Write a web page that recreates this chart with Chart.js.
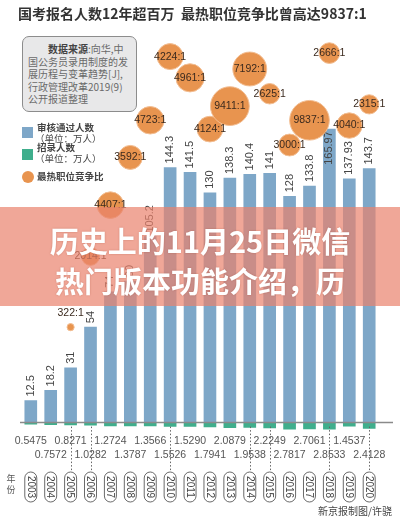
<!DOCTYPE html>
<html>
<head>
<meta charset="utf-8">
<script src="https://cdn.jsdelivr.net/npm/chart.js@4.4.1/dist/chart.umd.min.js"></script>
<style>
  html, body { margin: 0; padding: 0; background: #fff; }
  #wrap { position: relative; width: 400px; height: 519px; overflow: hidden; font-family: "Noto Sans CJK SC", sans-serif; }
  #chart { position: absolute; left: 0; top: 0; }
  #title { position: absolute; left: 18px; top: 3px; font-size: 14px; font-weight: bold; color: #333; white-space: nowrap; }
  #source { position: absolute; left: 22px; top: 36px; width: 115px; height: 76px; box-sizing: border-box;
    border: 1px solid #8c8c8c; border-radius: 7px; background: #e8e8e9; padding: 6px 0 0 5px;
    font-size: 10px; line-height: 12.6px; color: #6a6a6a; white-space: nowrap; overflow: hidden; }
  #source b { color: #444; }
  .lg { position: absolute; font-size: 9.5px; color: #444; white-space: nowrap; line-height: 11px; }
  .sw { position: absolute; width: 11px; height: 11px; }
  #banner { position: absolute; left: 0; top: 207px; width: 400px; height: 99px; background: rgba(234,130,108,0.7);
    color: #fff; font-weight: bold; font-size: 29px; line-height: 40px; text-align: center; box-sizing: border-box;
    padding-top: 13px; text-shadow: 0 0 2px rgba(150,60,40,0.4); }
  #credit { position: absolute; right: 8px; top: 503px; font-size: 10px; color: #444; }
</style>
</head>
<body>
<div id="wrap">
  <canvas id="chart" width="400" height="519"></canvas>
  <div id="title">国考报名人数12年超百万&nbsp;&nbsp;最热职位竞争比曾高达9837:1</div>
  <div id="source">&emsp;&emsp;<b>数据来源</b>:向华,中<br>国公务员录用制度的发<br>展历程与变革趋势[J],<br>行政管理改革2019(9)<br>公开报道整理</div>
  <div class="sw" style="left:22px;top:127px;background:#7ea7c8"></div>
  <div class="lg" style="left:37px;top:122px;font-weight:bold">审核通过人数</div>
  <div class="lg" style="left:35px;top:133px">（单位：万人）</div>
  <div class="sw" style="left:22px;top:149px;background:#3fae8c"></div>
  <div class="lg" style="left:37px;top:142px;font-weight:bold">招录人数</div>
  <div class="lg" style="left:35px;top:153px">（单位：万人）</div>
  <div class="sw" style="left:22px;top:171px;width:12px;height:12px;border-radius:50%;background:#e8944f"></div>
  <div class="lg" style="left:37px;top:171px;font-weight:bold">最热职位竞争比</div>
  <div id="banner">历史上的11月25日微信<br>热门版本功能介绍，历</div>
  <div id="credit">新京报制图/许骁</div>
</div>
<script>
const years = ["2003", "2004", "2005", "2006", "2007", "2008", "2009", "2010", "2011",
  "2012", "2013", "2014", "2015", "2016", "2017", "2018", "2019", "2020"];
// 审核通过人数 (万人)
const passed = [12.5, 18.2, 31, 54, 74, 80, 105.2, 144.3, 141.5, 130, 138.3, 140.4, 141, 128, 133.8, 165.97, 137.93, 143.7];
// 招录人数 (万人)
const hired = [0.5475, 0.7572, 0.8271, 1.0282, 1.2724, 1.3787, 1.3566, 1.5526, 1.5290,
  1.7941, 2.0879, 1.9538, 2.2249, 2.7817, 2.7061, 2.8533, 1.4537, 2.4128];
// 最热职位竞争比
const ratioYears = ["2005", "2006", "2007", "2008", "2009", "2010", "2011", "2012",
  "2013", "2014", "2015", "2016", "2017", "2018", "2019", "2020"];
const ratios = [322, 2014, 4407, 3592, 4723, 4224, 4961, 4124, 9411, 7192, 2625, 3000, 9837, 2666, 4040, 2315];
// vertical level of each bubble, in the same units as the bar axis
const ratioLevel = [54, 94, 123, 150, 171, 207, 195, 166, 179, 200, 186, 157, 171, 209, 168, 180];
const dottedYears = ["2005", "2006", "2010", "2014", "2015", "2018", "2020"];

const BLUE = "#7ea7c8";
const GREEN = "#3fae8c";
const ORANGE = "#e8944f";
const NUM_FONT = "'Liberation Sans', Arial, sans-serif";

const maxIdx = passed.indexOf(Math.max(...passed));

const labelsPlugin = {
  id: "labels",
  afterDatasetDraw(chart, args) {
    if (args.index !== 0) return;
    const ctx = chart.ctx;
    const meta = chart.getDatasetMeta(0);
    ctx.save();
    ctx.font = `11px ${NUM_FONT}`;
    ctx.fillStyle = "#444";
    ctx.textBaseline = "middle";
    meta.data.forEach((bar, i) => {
      ctx.save();
      ctx.translate(bar.x, bar.y);
      ctx.rotate(-Math.PI / 2);
      if (i === maxIdx) {
        ctx.textAlign = "right";
        ctx.fillText(String(passed[i]), -2, 0);
      } else {
        ctx.textAlign = "left";
        ctx.fillText(String(passed[i]), 4, 0);
      }
      ctx.restore();
    });
    ctx.restore();
  },
  afterDatasetsDraw(chart) {
    const ctx = chart.ctx;
    const x = chart.scales.x;
    const y0 = chart.scales.y.getPixelForValue(0);
    ctx.save();

    // baseline
    ctx.strokeStyle = "#8a8a8a";
    ctx.lineWidth = 1.5;
    ctx.beginPath();
    ctx.moveTo(20, y0);
    ctx.lineTo(393, y0);
    ctx.stroke();

    // dotted guides
    ctx.strokeStyle = "#666";
    ctx.lineWidth = 1;
    ctx.setLineDash([1.5, 2]);
    dottedYears.forEach((yr) => {
      const px = Math.round(x.getPixelForValue(years.indexOf(yr))) + 0.5;
      ctx.beginPath();
      ctx.moveTo(px, y0 + 4);
      ctx.lineTo(px, 472);
      ctx.stroke();
    });
    ctx.setLineDash([]);

    // recruitment numbers, alternating rows
    ctx.font = `10.5px ${NUM_FONT}`;
    ctx.fillStyle = "#555";
    ctx.textAlign = "center";
    ctx.textBaseline = "middle";
    hired.forEach((v, i) => {
      ctx.fillText(v.toFixed(4), x.getPixelForValue(i), i % 2 ? 455 : 441);
    });

    // year pills
    ctx.font = `10px ${NUM_FONT}`;
    years.forEach((yr, i) => {
      const px = x.getPixelForValue(i);
      const cy = 487;
      ctx.fillStyle = "#fff";
      ctx.strokeStyle = "#444";
      ctx.lineWidth = 0.8;
      ctx.beginPath();
      ctx.roundRect(px - 6, cy - 15, 12, 30, 6);
      ctx.fill();
      ctx.stroke();
      ctx.save();
      ctx.translate(px, cy);
      ctx.rotate(Math.PI / 2);
      ctx.fillStyle = "#444";
      ctx.fillText(yr, 0, 0.5);
      ctx.restore();
    });
    ctx.font = "9px 'Noto Sans CJK SC', sans-serif";
    ctx.fillStyle = "#555";
    ctx.fillText("年", 11, 479);
    ctx.fillText("份", 11, 490);

    // ratio labels
    const bm = chart.getDatasetMeta(2);
    ctx.font = `10.5px ${NUM_FONT}`;
    ctx.fillStyle = "#3b2a1e";
    bm.data.forEach((pt, i) => {
      const r = pt.options.radius;
      const ly = r < 6 ? pt.y - 14 : pt.y;
      ctx.fillText(ratios[i] + ":1", pt.x, ly);
    });
    ctx.restore();
  },
};

new Chart(document.getElementById("chart"), {
  type: "bar",
  data: {
    labels: years,
    datasets: [
      {
        label: "审核通过人数",
        data: passed,
        backgroundColor: BLUE,
        barThickness: 12,
        grouped: false,
        yAxisID: "y",
        order: 1,
      },
      {
        label: "招录人数",
        data: hired.map((v) => -v),
        backgroundColor: GREEN,
        barThickness: 12,
        grouped: false,
        yAxisID: "y2",
        order: 2,
      },
      {
        type: "bubble",
        label: "最热职位竞争比",
        data: ratioYears.map((yr, i) => ({ x: yr, y: ratioLevel[i], r: 0.2 * Math.sqrt(ratios[i]) })),
        backgroundColor: ORANGE,
        borderColor: "#f2be93",
        borderWidth: 1,
        yAxisID: "y",
        order: 0,
      },
    ],
  },
  options: {
    responsive: false,
    devicePixelRatio: 1,
    animation: false,
    events: [],
    layout: { padding: { left: 17.5, right: 4.5, top: 40, bottom: 84 } },
    plugins: { legend: { display: false }, tooltip: { enabled: false } },
    scales: {
      x: { type: "category", offset: true, display: false },
      y: { min: -7, max: 216.4, display: false },
      y2: { min: -5.45, max: 174, display: false },
    },
  },
  plugins: [labelsPlugin],
});
</script>
</body>
</html>
